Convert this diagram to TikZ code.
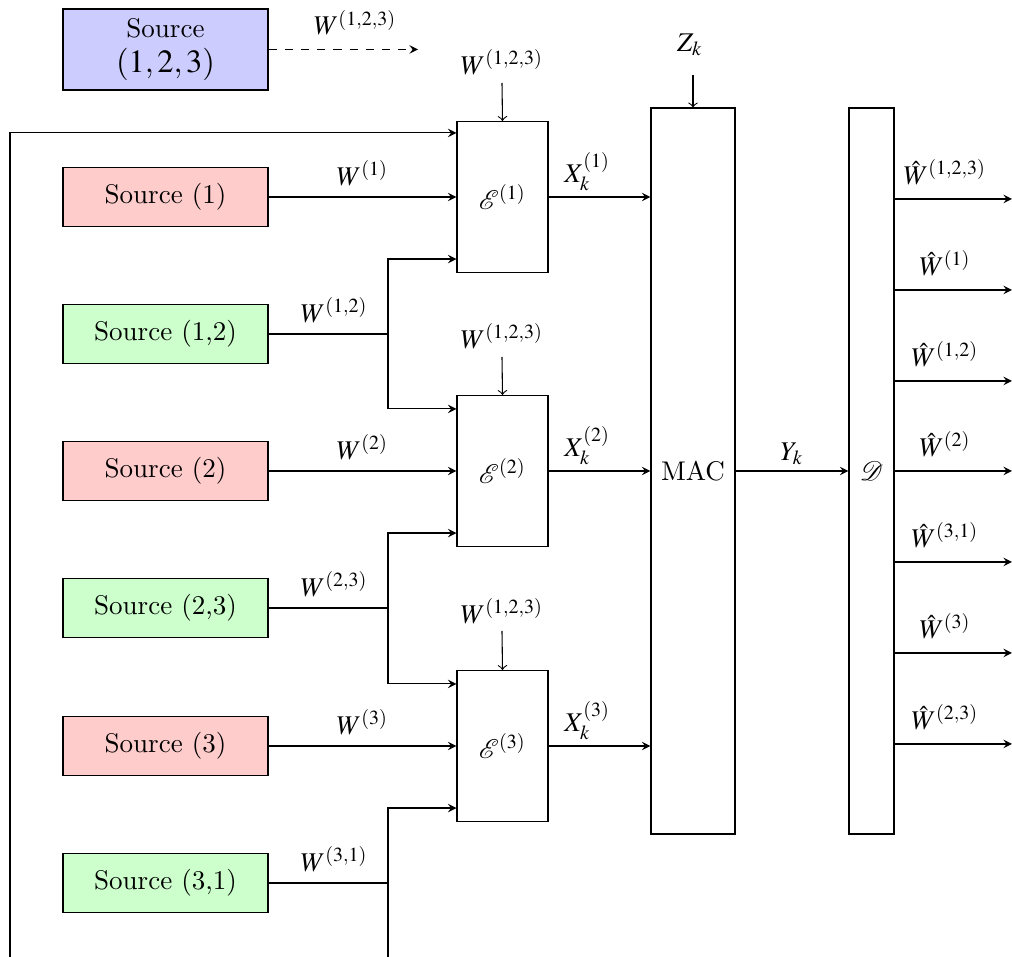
\documentclass[tikz,border=0pt]{standalone}
\usepackage{amsmath}
\usepackage{mathptmx}
\usepackage{mathrsfs}
\usetikzlibrary{calc}
\begin{document}
\begin{tikzpicture}[x=0.37pt,y=-0.37pt,
  box/.style={draw, rectangle, inner sep=0pt},
  src/.style={box, minimum width=205*0.37pt, minimum height=59*0.37pt},
  redsrc/.style={src, fill=red!20},
  greensrc/.style={src, fill=green!20},
  enc/.style={box, minimum width=91*0.37pt, minimum height=151*0.37pt},
  arr/.style={-stealth},
  arrto/.style={->},
  lab/.style={inner sep=2pt}
]
\useasboundingbox (0,0) rectangle (1012,957);

% sources
\node[src, fill=blue!20, minimum height=81*0.37pt, align=center] (s123) at (165.5,49.5)
  {Source\\[1pt]{\large$(1,2,3)$}};
\node[redsrc]   (s1)  at (165.5,197) {Source (1)};
\node[greensrc] (s12) at (165.5,334) {Source (1,2)};
\node[redsrc]   (s2)  at (165.5,471) {Source (2)};
\node[greensrc] (s23) at (165.5,608) {Source (2,3)};
\node[redsrc]   (s3)  at (165.5,746) {Source (3)};
\node[greensrc] (s31) at (165.5,883) {Source (3,1)};

% encoders
\node[enc] (e1) at (502.5,197) {$\mathscr{E}^{(1)}$};
\node[enc] (e2) at (502.5,471) {$\mathscr{E}^{(2)}$};
\node[enc] (e3) at (502.5,746) {$\mathscr{E}^{(3)}$};

% MAC and decoder
\node[box, minimum width=84*0.37pt, minimum height=726*0.37pt] (mac) at (693,471) {MAC};
\node[box, minimum width=45*0.37pt, minimum height=726*0.37pt] (dec) at (871.5,471) {$\mathscr{D}$};

% dashed output of source (1,2,3)
\coordinate (dend) at (418,49.5);
\draw[arr, dashed] (s123.east) -- node[lab, above=3pt, pos=0.58] {$W^{(1,2,3)}$} (dend);

% common message into encoders
\node[lab] (w1) at (502,62) {$W^{(1,2,3)}$};
\node[lab] (w2) at (502,336) {$W^{(1,2,3)}$};
\node[lab] (w3) at (502,611) {$W^{(1,2,3)}$};
\coordinate (w1s) at (502,83);
\coordinate (w2s) at (502,357);
\coordinate (w3s) at (502,631);
\draw[arrto] (w1s) -- (e1.north);
\draw[arrto] (w2s) -- (e2.north);
\draw[arrto] (w3s) -- (e3.north);

% feedback line
\coordinate (fb) at (10,957);
\draw[arr] (fb) |- ($(e1.north west)+(0,12)$);

% private messages
\draw[arr] (s1.east) -- node[lab, above=2pt] {$W^{(1)}$} (e1.west);
\draw[arr] (s2.east) -- node[lab, above=2pt] {$W^{(2)}$} (e2.west);
\draw[arr] (s3.east) -- node[lab, above=2pt] {$W^{(3)}$} (e3.west);

% pairwise messages
\coordinate (j12) at (388,334);
\coordinate (j23) at (388,608);
\coordinate (j31) at (388,883);
\coordinate (j31b) at (388,957);
\draw (s12.east) -- node[lab, above=2pt, pos=0.55] {$W^{(1,2)}$} (j12);
\draw (s23.east) -- node[lab, above=2pt, pos=0.55] {$W^{(2,3)}$} (j23);
\draw (s31.east) -- node[lab, above=2pt, pos=0.55] {$W^{(3,1)}$} (j31);
\draw[arr] (j12) |- ($(e1.south west)+(0,-14)$);
\draw[arr] (j12) |- ($(e2.north west)+(0,14)$);
\draw[arr] (j23) |- ($(e2.south west)+(0,-14)$);
\draw[arr] (j23) |- ($(e3.north west)+(0,14)$);
\draw[arr] (j31b) |- ($(e3.south west)+(0,-14)$);

% encoder outputs
\draw[arr] (e1.east) -- node[lab, above, pos=0.38] {$X_k^{(1)}$} (mac.west |- e1.east);
\draw[arr] (e2.east) -- node[lab, above, pos=0.38] {$X_k^{(2)}$} (mac.west |- e2.east);
\draw[arr] (e3.east) -- node[lab, above, pos=0.38] {$X_k^{(3)}$} (mac.west |- e3.east);

% noise
\node[lab] (z) at (690,45) {$Z_k$};
\coordinate (zs) at (693,75);
\draw[arrto] (zs) -- (mac.north);

% channel output
\draw[arr] (mac.east) -- node[lab, above] {$Y_k$} (dec.west);

% decoder outputs
\coordinate (o1) at (1012,199);
\coordinate (o2) at (1012,290);
\coordinate (o3) at (1012,381);
\coordinate (o4) at (1012,471);
\coordinate (o5) at (1012,562);
\coordinate (o6) at (1012,653);
\coordinate (o7) at (1012,744);
\draw[arr] (dec.east |- o1) -- node[lab, above=3pt, pos=0.43] {$\hat{W}^{(1,2,3)}$} (o1);
\draw[arr] (dec.east |- o2) -- node[lab, above=3pt, pos=0.43] {$\hat{W}^{(1)}$} (o2);
\draw[arr] (dec.east |- o3) -- node[lab, above=3pt, pos=0.43] {$\hat{W}^{(1,2)}$} (o3);
\draw[arr] (dec.east |- o4) -- node[lab, above=3pt, pos=0.43] {$\hat{W}^{(2)}$} (o4);
\draw[arr] (dec.east |- o5) -- node[lab, above=3pt, pos=0.43] {$\hat{W}^{(3,1)}$} (o5);
\draw[arr] (dec.east |- o6) -- node[lab, above=3pt, pos=0.43] {$\hat{W}^{(3)}$} (o6);
\draw[arr] (dec.east |- o7) -- node[lab, above=3pt, pos=0.43] {$\hat{W}^{(2,3)}$} (o7);
\end{tikzpicture}
\end{document}
